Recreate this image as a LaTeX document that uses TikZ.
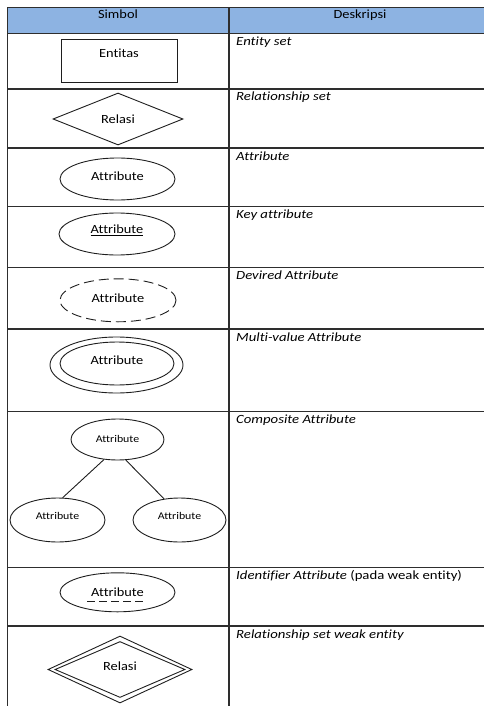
\documentclass[tikz,border=0pt]{standalone}
\usepackage{fontspec}
\setmainfont{Carlito}[Ligatures=NoCommon]
\newfontfamily\symf[FakeStretch=1.15,Ligatures=NoCommon]{Carlito}
\newfontfamily\descf[FakeStretch=1.18,Ligatures=NoCommon]{Carlito}
\newcommand\mysym{\symf\fontsize{12.5}{14}\selectfont}
\newcommand\mysmall{\symf\fontsize{10.3}{12}\selectfont}
\newcommand\mydesc{\descf\itshape\fontsize{12.5}{14}\selectfont}
\usetikzlibrary{shapes.geometric}
\definecolor{hdr}{HTML}{8DB3E2}
\definecolor{tblc}{HTML}{2E2E2E}
\definecolor{shpc}{HTML}{1E1E1E}
\begin{document}
\begin{tikzpicture}[x=1pt,y=-1pt,
  grid/.style={draw=tblc, line width=1.4pt},
  shp/.style={draw=shpc, line width=0.9pt, inner sep=0pt, font=\mysym},
  ell/.style={shp, ellipse},
  dia/.style={shp, diamond},
  desc/.style={anchor=base west, inner sep=0pt, font=\mydesc},
  hd/.style={anchor=base, inner sep=0pt, font=\mysym},
  lbl/.style={font=\mysym, inner sep=0pt}]
\useasboundingbox (0,0) rectangle (484,706);
\clip (0,0) rectangle (484,706);
% header
\fill[hdr] (7.5,7.5) rectangle (495,33.5);
% grid
\draw[grid] (495,7.5) -- (7.5,7.5) -- (7.5,712);
\draw[grid] (229,7.5) -- (229,712);
\foreach \yy in {33.5,89,148,206.5,267.5,329,411.5,567.5,626}
  \draw[grid] (7.5,\yy) -- (495,\yy);
% header texts
\node[hd] (h1) at (118,19) {Simbol};
\node[hd] (h2) at (360,19) {Deskripsi};
% descriptions
\node[desc] (d1) at (236,45.5) {Entity set};
\node[desc] (d2) at (236,101) {Relationship set};
\node[desc] (d3) at (236,160) {Attribute};
\node[desc] (d4) at (236,218.5) {Key attribute};
\node[desc] (d5) at (236,279.5) {Devired Attribute};
\node[desc] (d6) at (236,341) {Multi-value Attribute};
\node[desc] (d7) at (236,423.5) {Composite Attribute};
\node[desc] (d8) at (236,579.5) {Identifier Attribute \textup{(pada weak entity)}};
\node[desc] (d9) at (236,638) {Relationship set weak entity};
% entity
\node[shp, rectangle, minimum width=116pt, minimum height=43pt,
  label={[lbl, name=entl, yshift=7pt]center:Entitas}] (ent) at (119,60.5) {};
% relationship
\node[dia, minimum width=130pt, minimum height=52pt] (rel) at (118,119) {Relasi};
% attribute
\node[ell, minimum width=115pt, minimum height=42pt,
  label={[lbl, name=a1l, yshift=3pt]center:Attribute}] (a1) at (117.5,179) {};
% key attribute
\node[ell, minimum width=116pt, minimum height=42pt,
  label={[lbl, name=a2l, yshift=4pt]center:\underline{Attribute}}] (a2) at (117,234) {};
% derived attribute
\node[ell, dash pattern=on 10pt off 5pt, minimum width=116pt, minimum height=43pt,
  label={[lbl, name=a3l, yshift=2.5pt]center:Attribute}] (a3) at (118,300.3) {};
% multi-value
\node[ell, minimum width=133pt, minimum height=56pt] (mvo) at (116.5,365) {};
\node[ell, minimum width=114pt, minimum height=43pt,
  label={[lbl, name=mvl, yshift=3.3pt]center:Attribute}] (mvi) at (117,363.5) {};
% composite
\node[ell, minimum width=93pt, minimum height=41pt,
  label={[font=\mysmall, inner sep=0pt, name=ctl, yshift=1pt]center:Attribute}] (ct) at (117.5,439.5) {};
\node[ell, minimum width=95pt, minimum height=44pt,
  label={[font=\mysmall, inner sep=0pt, name=cll, yshift=4pt]center:Attribute}] (cl) at (57.5,520) {};
\node[ell, minimum width=93pt, minimum height=44pt,
  label={[font=\mysmall, inner sep=0pt, name=crl, yshift=4pt]center:Attribute}] (cr) at (179.5,520) {};
\draw[draw=shpc, line width=0.9pt] (ct.236) -- (cl.77);
\draw[draw=shpc, line width=0.9pt] (ct.292) -- (cr.126);
% identifier attribute
\node[ell, minimum width=115pt, minimum height=39pt] (id) at (117.5,592.3) {Attribute};
\draw[draw=shpc, line width=0.9pt, dash pattern=on 8pt off 4pt]
  ([xshift=-30.5pt,yshift=-9.5pt]id.center) -- ([xshift=28pt,yshift=-9.5pt]id.center);
% weak relationship
\node[dia, minimum width=144pt, minimum height=67pt] (wro) at (120,669.5) {};
\node[dia, minimum width=130pt, minimum height=56pt,
  label={[lbl, name=wrl, yshift=3pt]center:Relasi}] (wri) at (120,669.5) {};
\end{tikzpicture}
\end{document}
